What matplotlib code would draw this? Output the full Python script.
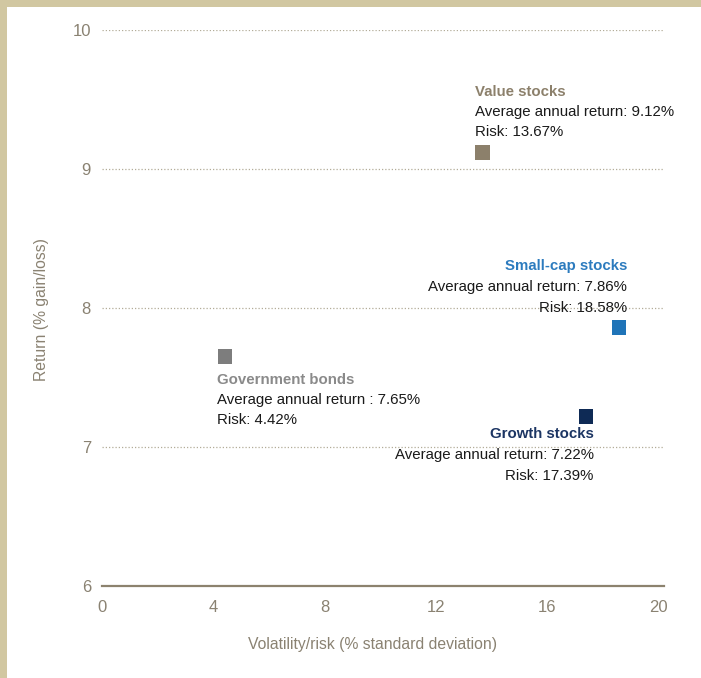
import matplotlib
matplotlib.use("Agg")
import matplotlib.pyplot as plt
from matplotlib.patches import Rectangle

# data
names = ["Value stocks", "Small-cap stocks", "Growth stocks", "Government bonds"]
risk = [13.67, 18.58, 17.39, 4.42]
ret = [9.12, 7.86, 7.22, 7.65]
colors = ["#8C806B", "#1F74B8", "#0E2A55", "#7D7D7D"]
title_colors = ["#8C806B", "#2C7BBE", "#1C3563", "#8A8A8A"]
ret_text = ["Average annual return: 9.12%", "Average annual return: 7.86%",
            "Average annual return: 7.22%", "Average annual return : 7.65%"]
risk_text = ["Risk: 13.67%", "Risk: 18.58%", "Risk: 17.39%", "Risk: 4.42%"]

x_ticks = [0, 4, 8, 12, 16, 20]
y_ticks = [6, 7, 8, 9, 10]

FONT = ["Liberation Sans", "DejaVu Sans"]
TAN = "#8A8272"

# label layout in pixels: (dx, dy of first line, ha, line gap)
layout = [(-7, 60, "left", 20), (8, 61, "right", 21),
          (8, -18, "right", 21), (-8, -23, "left", 20)]


def px(v):
    return v * 0.72


def main():
    fig = plt.figure(figsize=(7.01, 6.78), dpi=100)
    fig.patch.set_facecolor("#D1C7A1")
    fig.add_artist(Rectangle((7 / 701, 0), 1, 1 - 7 / 678, transform=fig.transFigure,
                             facecolor="white", edgecolor="none", zorder=0))

    ax = fig.add_axes([102 / 701, 1 - 586 / 678, 562 / 701, 556 / 678])
    ax.set_facecolor("none")
    ax.set_xlim(0, 20.2)
    ax.set_ylim(6, 10)

    for s in ["top", "right", "left"]:
        ax.spines[s].set_visible(False)
    ax.spines["bottom"].set_color("#8C826E")
    ax.spines["bottom"].set_linewidth(1.6)

    for y in y_ticks[1:]:
        ax.axhline(y, color="#B3AC98", lw=0.9, ls=(0, (1, 1.6)), zorder=1)

    ax.set_xticks(x_ticks)
    ax.set_yticks(y_ticks)
    ax.tick_params(length=0, labelcolor=TAN, labelsize=12)
    ax.tick_params(axis="y", pad=8)
    ax.tick_params(axis="x", pad=10)
    for lab in ax.get_xticklabels() + ax.get_yticklabels():
        lab.set_family(FONT)

    ax.scatter(risk, ret, marker="s", s=108, c=colors, linewidths=0, zorder=3)

    for i in range(len(names)):
        dx, dy, ha, gap = layout[i]
        lines = [(names[i], title_colors[i], "bold"),
                 (ret_text[i], "#1A1A1A", "normal"),
                 (risk_text[i], "#1A1A1A", "normal")]
        for k, (t, c, w) in enumerate(lines):
            ax.annotate(t, (risk[i], ret[i]), xytext=(px(dx), px(dy - k * gap)),
                        textcoords="offset points", ha=ha, va="center",
                        fontsize=10.8, color=c, fontweight=w, family=FONT, zorder=4)

    fig.text(42 / 701, 1 - 310 / 678, "Return (% gain/loss)", rotation=90,
             ha="center", va="center", color=TAN, fontsize=11.3, family=FONT)
    fig.text(372 / 701, 1 - 645 / 678, "Volatility/risk (% standard deviation)",
             ha="center", va="center", color=TAN, fontsize=11.3, family=FONT)

    fig.savefig("out.png", dpi=100, facecolor=fig.get_facecolor())


if __name__ == "__main__":
    main()
